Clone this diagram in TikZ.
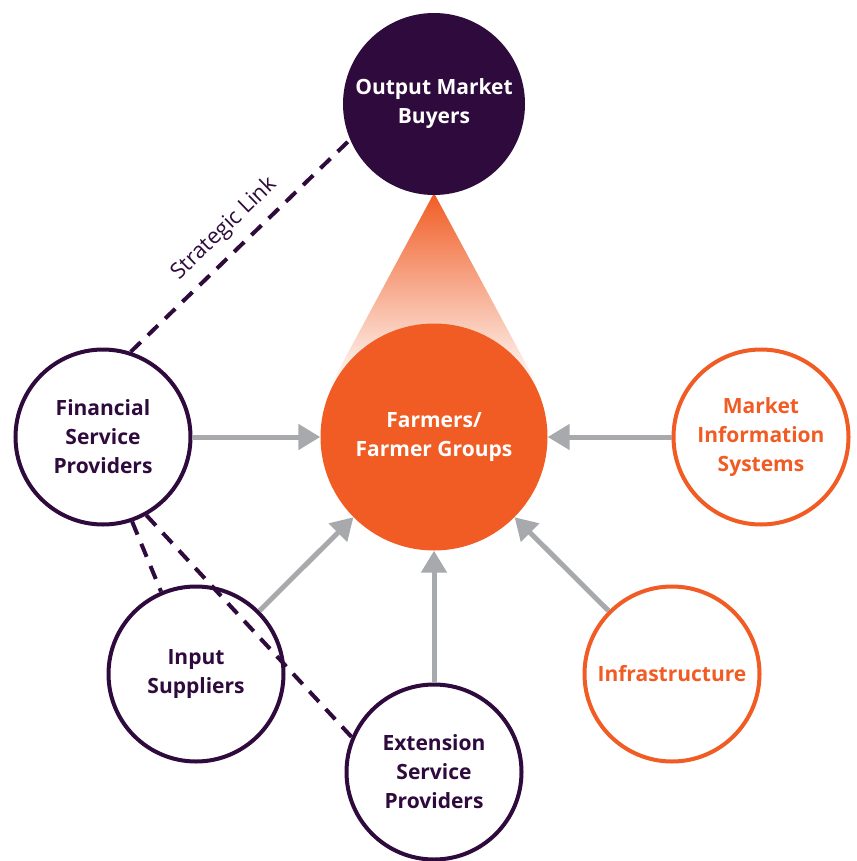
\documentclass[tikz,border=0pt]{standalone}
\usepackage{fontspec}
\setmainfont{Open Sans}
\usetikzlibrary{arrows.meta}
\definecolor{plum}{RGB}{47,10,61}
\definecolor{tangerine}{RGB}{240,92,36}
\definecolor{steel}{RGB}{167,169,172}

\begin{document}
\begin{tikzpicture}[x=1pt, y=-1pt, >={Triangle[length=22pt,width=25pt]},
  hub/.style={circle, fill=#1, inner sep=0pt, text=white, align=center,
    font=\bfseries\fontsize{21}{29}\selectfont},
  actor/.style={circle, draw=#1, line width=4pt, fill=white, text=#1, inner sep=0pt,
    minimum size=175pt, align=center, font=\bfseries\fontsize{21}{29}\selectfont},
  feed/.style={draw=steel, line width=5pt, ->},
  link/.style={draw=plum, line width=4pt, dash pattern=on 14pt off 10pt}]

\useasboundingbox (0,0) rectangle (856,861);

% cone from the farmers up to the buyers
\shade [top color=tangerine, bottom color=white] (434,193) -- (329,388) -- (539,388) -- cycle;

% centre and top
\node [hub=plum, minimum size=182pt] (buyers) at (434,104) {Output Market\\Buyers};
\node [hub=tangerine, minimum size=227pt] (farm) at (434,437) {Farmers/\\Farmer Groups};

% surrounding actors
\node [actor=plum] (fsp) at (103,437) {Financial\\Service\\Providers};
\node [actor=tangerine] (mis) at (761,437) {Market\\Information\\Systems};
\node [actor=plum] (input) at (196,674) {Input\\Suppliers};
\node [actor=plum] (ext) at (434,772) {Extension\\Service\\Providers};
\node [actor=tangerine] (infra) at (672,674) {Infrastructure};

% support flows
\draw [feed] (fsp) -- (farm);
\draw [feed] (mis) -- (farm);
\draw [feed] (input) -- (farm);
\draw [feed] (ext) -- (farm);
\draw [feed] (infra) -- (farm);

% strategic links
\draw [link] (fsp.72) -- node [sloped, above=7pt, text=plum, font=\fontsize{22}{22}\selectfont] {Strategic Link} (buyers.203);
\draw [link] (fsp.-71) -- (input.113);
\draw [link] (fsp.-61) -- (ext.157);

\end{tikzpicture}
\end{document}
